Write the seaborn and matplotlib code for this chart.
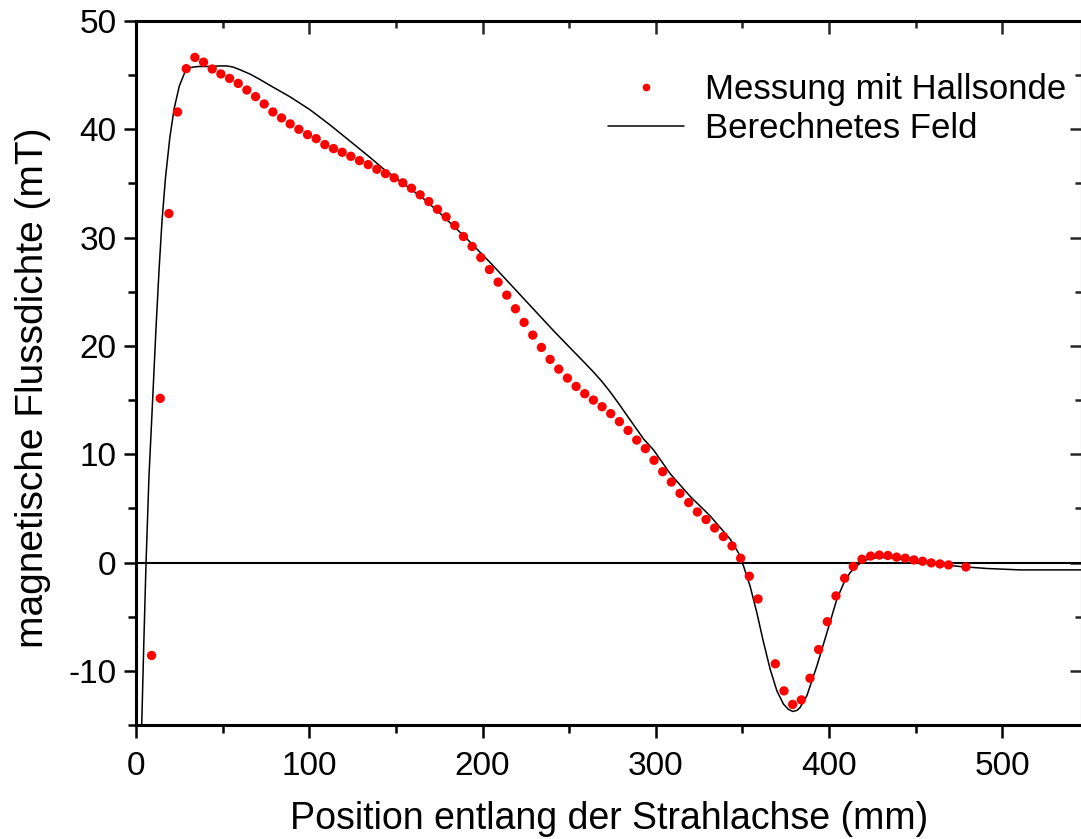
import numpy as np
import pandas as pd
import matplotlib
matplotlib.use("Agg")
import matplotlib.pyplot as plt
from matplotlib.ticker import MultipleLocator
from matplotlib.lines import Line2D
import seaborn as sns

# Hall probe measurement along the beam axis (position in mm, flux density in mT)
pos_mess = [9, 14, 19, 24, 29, 34, 39, 44, 49, 54, 59, 64, 69, 74, 79, 84, 89, 94,
            99, 104, 109, 114, 119, 124, 129, 134, 139, 144, 149, 154, 159, 164,
            169, 174, 179, 184, 189, 194, 199, 204, 209, 214, 219, 224, 229, 234,
            239, 244, 249, 254, 259, 264, 269, 274, 279, 284, 289, 294, 299, 304,
            309, 314, 319, 324, 329, 334, 339, 344, 349, 354, 359, 369, 374, 379,
            384, 389, 394, 399, 404, 409, 414, 419, 424, 429, 434, 439, 444, 449,
            454, 459, 464, 469, 479]
b_mess = [-8.58, 15.16, 32.22, 41.6, 45.6, 46.64, 46.2, 45.57, 45.11, 44.7, 44.24,
          43.63, 43.02, 42.34, 41.6, 41.05, 40.5, 40.0, 39.51, 39.14, 38.59, 38.22,
          37.88, 37.51, 37.11, 36.74, 36.31, 35.91, 35.52, 35.06, 34.56, 33.95,
          33.33, 32.62, 31.92, 31.12, 30.10, 29.18, 28.16, 27.05, 25.89, 24.69,
          23.43, 22.17, 21.00, 19.86, 18.76, 17.86, 17.03, 16.26, 15.59, 15.00,
          14.39, 13.75, 13.01, 12.20, 11.31, 10.52, 9.44, 8.39, 7.43, 6.39, 5.54,
          4.67, 3.97, 3.19, 2.40, 1.53, 0.40, -1.26, -3.36, -9.35, -11.85, -13.10,
          -12.68, -10.68, -8.03, -5.46, -3.08, -1.45, -0.36, 0.31, 0.60, 0.69,
          0.65, 0.50, 0.40, 0.24, 0.12, -0.03, -0.13, -0.22, -0.41]

# Calculated field
pos_calc = [2, 3.3, 4.5, 5.8, 7.5, 9.6, 11.5, 13.3, 15, 17, 19.5, 22, 25, 28, 31,
            36, 42.7, 48, 52.4, 56, 60, 65.8, 71, 77.4, 88.9, 100.5, 112, 123.6,
            135.1, 142.8, 154.3, 165.9, 176.5, 190.9, 204.4, 217.8, 229.4, 241,
            252.5, 258, 264, 269, 273.7, 278.5, 283.3, 293, 298.7, 308.3, 319.9,
            331.4, 343, 347.7, 350.6, 354.4, 358.3, 362.2, 366, 369.9, 373.7,
            376.5, 379.1, 381.5, 383.3, 387.2, 393, 398.8, 404.5, 408.5, 412.2,
            416, 419.9, 423.5, 427.6, 433.4, 445, 458.4, 475.8, 491.2, 510.4, 546]
b_calc = [-23, -15, -7.5, 0, 8, 15, 21.5, 27, 31.5, 35.5, 39.2, 41.9, 44.0, 45.2,
          45.7, 45.8, 45.8, 45.85, 45.85, 45.75, 45.5, 45.1, 44.65, 44.05, 43.0,
          41.8, 40.4, 38.9, 37.4, 36.35, 35.0, 33.6, 32.1, 29.9, 27.7, 25.4, 23.4,
          21.4, 19.5, 18.6, 17.6, 16.7, 15.75, 14.7, 13.6, 11.4, 10.4, 8.2, 6.1,
          4.3, 2.15, 0.9, -0.3, -2.16, -4.61, -7.38, -9.84, -11.85, -13.07,
          -13.55, -13.75, -13.65, -13.38, -12.3, -9.54, -6.46, -3.39, -1.9,
          -0.92, -0.3, 0.15, 0.35, 0.44, 0.46, 0.24, -0.06, -0.37, -0.55, -0.68,
          -0.68]

lbl_mess = "Messung mit Hallsonde"
lbl_calc = "Berechnetes Feld"
xlabel = "Position entlang der Strahlachse (mm)"
ylabel = "magnetische Flussdichte (mT)"

df_mess = pd.DataFrame({"x": pos_mess, "B": b_mess})
df_calc = pd.DataFrame({"x": pos_calc, "B": b_calc})

sns.set_style("ticks")
plt.rcParams["font.family"] = ["Liberation Sans", "DejaVu Sans"]
plt.rcParams["axes.unicode_minus"] = False
plt.rcParams["text.color"] = "black"
plt.rcParams["axes.labelcolor"] = "black"

W, H = 1081, 839
fig = plt.figure(figsize=(W / 100, H / 100), dpi=100)
ax = fig.add_axes([136 / W, 1 - 725 / H, 946 / W, 704 / H])

ax.axhline(0, color="black", lw=1.5, zorder=1)
sns.lineplot(data=df_calc, x="x", y="B", ax=ax, color="black", lw=1.1,
             sort=False, estimator=None, zorder=2)
sns.scatterplot(data=df_mess, x="x", y="B", ax=ax, color="#ff0000", s=45,
                edgecolor="none", zorder=3)

ax.set_xlim(0, 546)
ax.set_ylim(-15, 50)
ax.xaxis.set_major_locator(MultipleLocator(100))
ax.xaxis.set_minor_locator(MultipleLocator(50))
ax.yaxis.set_major_locator(MultipleLocator(10))
ax.yaxis.set_minor_locator(MultipleLocator(5))

for s in ax.spines.values():
    s.set_linewidth(2.2)
    s.set_color("black")

ax.tick_params(which="major", direction="out", length=9, width=1.8,
               labelsize=24, colors="black", top=False, right=False)
ax.tick_params(axis="x", which="major", pad=10)
ax.tick_params(axis="y", which="major", pad=5)
ax.tick_params(which="minor", direction="out", length=6, width=1.8,
               colors="black", top=False, right=False)

# inward ticks mirrored on top and right
axt = ax.secondary_xaxis("top")
axt.xaxis.set_major_locator(MultipleLocator(100))
axt.xaxis.set_minor_locator(MultipleLocator(50))
axt.tick_params(which="major", direction="in", length=9, width=1.8, labeltop=False)
axt.tick_params(which="minor", direction="in", length=5, width=1.8)
axr = ax.secondary_yaxis("right")
axr.yaxis.set_major_locator(MultipleLocator(10))
axr.yaxis.set_minor_locator(MultipleLocator(5))
axr.tick_params(which="major", direction="in", length=9, width=1.8, labelright=False)
axr.tick_params(which="minor", direction="in", length=5, width=1.8)
for sec in (axt, axr):
    for s in sec.spines.values():
        s.set_visible(False)

ax.set_xlabel(xlabel, fontsize=27, color="black")
ax.set_ylabel(ylabel, fontsize=28, color="black")
ax.xaxis.set_label_coords(0.5, -(801 - 725) / 704)
ax.yaxis.set_label_coords(-(136 - 51) / 946, 0.479)

handles = [Line2D([], [], ls="none", marker="o", color="#ff0000", markersize=5.5,
                  markeredgewidth=0),
           Line2D([], [], color="black", lw=1.1)]
leg = ax.legend(handles, [lbl_mess, lbl_calc], loc="upper left",
                bbox_to_anchor=(608 / W, 1 - 73 / H), bbox_transform=fig.transFigure,
                frameon=False, fontsize=25, handlelength=2.2, handletextpad=0.58,
                labelspacing=0.18, borderpad=0, borderaxespad=0)
for t in leg.get_texts():
    t.set_color("black")

fig.savefig("out.png", dpi=100)
